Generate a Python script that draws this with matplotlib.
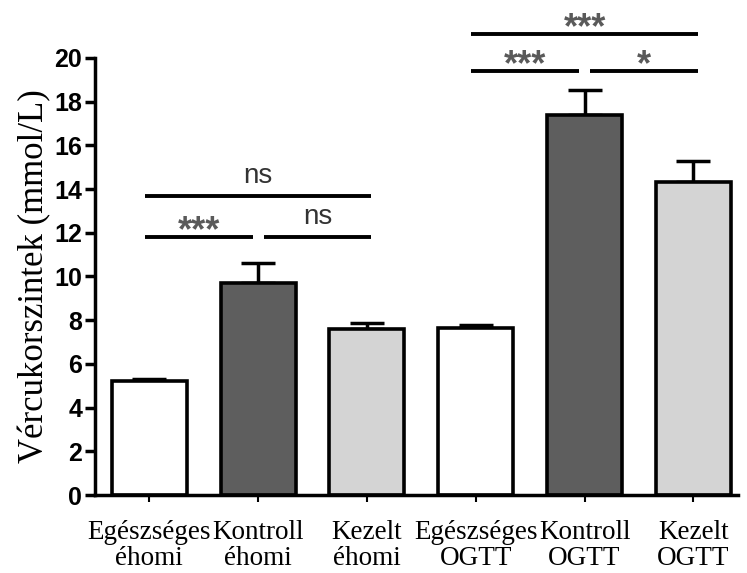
import matplotlib
matplotlib.use('Agg')
import matplotlib.pyplot as plt

# data
groups = ['Egészséges\néhomi', 'Kontroll\néhomi', 'Kezelt\néhomi',
          'Egészséges\nOGTT', 'Kontroll\nOGTT', 'Kezelt\nOGTT']
means = [5.2, 9.7, 7.6, 7.65, 17.4, 14.3]
errors = [0.1, 0.9, 0.25, 0.15, 1.15, 1.0]
fills = ['white', '#5e5e5e', '#d4d4d4', 'white', '#5e5e5e', '#d4d4d4']

# significance brackets: (left bar, right bar, y level, label)
brackets = [(0, 1, 11.8, '***'), (1, 2, 11.8, 'ns'), (0, 2, 13.7, 'ns'),
            (3, 4, 19.4, '***'), (4, 5, 19.4, '*'), (3, 5, 21.1, '***')]
yticks = [0, 2, 4, 6, 8, 10, 12, 14, 16, 18, 20]

fig = plt.figure(figsize=(7.47, 5.73), dpi=100)
ax = fig.add_axes([0.127, 0.136, 0.861, 0.763])

x = list(range(len(means)))
ax.bar(x, means, width=0.69, color=fills, edgecolor='black', linewidth=2.6, zorder=2)
ax.errorbar(x, means, yerr=[[0] * len(errors), errors], fmt='none', ecolor='black',
            elinewidth=2.5, capsize=12.5, capthick=2.5, zorder=1)

ax.set_xlim(-0.5, 5.41)
ax.set_ylim(0, 20)
ax.set_yticks(yticks)
ax.set_xticks(x)
ax.set_xticklabels(groups, family='Liberation Serif', fontsize=19.5, linespacing=1.05)
for lab in ax.get_yticklabels():
    lab.set_family('Liberation Sans')
    lab.set_fontweight('bold')
    lab.set_fontsize(18)
ax.set_ylabel('Vércukorszintek (mmol/L)', family='Liberation Serif', fontsize=25, labelpad=2)

for side in ['top', 'right']:
    ax.spines[side].set_visible(False)
for side in ['left', 'bottom']:
    ax.spines[side].set_linewidth(2.5)
ax.tick_params(axis='y', length=7, width=2.5, pad=2)
ax.tick_params(axis='x', length=5, width=1.5, pad=13)

# brackets
for a, b, lvl, txt in brackets:
    x0, x1 = a - 0.04, b + 0.04
    if b - a == 1:
        if a in (0, 3):
            x1 = b - 0.05
        else:
            x0 = a + 0.05
    ax.plot([x0, x1], [lvl, lvl], color='black', lw=2.8, clip_on=False, solid_capstyle='butt')
    if txt == 'ns':
        ax.annotate(txt, ((x0 + x1) / 2, lvl), xytext=(0, 5), textcoords='offset points',
                    ha='center', va='bottom', fontsize=20, family='Liberation Sans',
                    color='#333333', annotation_clip=False)
    else:
        ax.annotate(txt, ((x0 + x1) / 2, lvl), xytext=(0, -3), textcoords='offset points',
                    ha='center', va='baseline', fontsize=26, family='Liberation Sans',
                    color='#5a5a5a', fontweight='bold', annotation_clip=False)

plt.savefig('out.png', dpi=100)
plt.close()
